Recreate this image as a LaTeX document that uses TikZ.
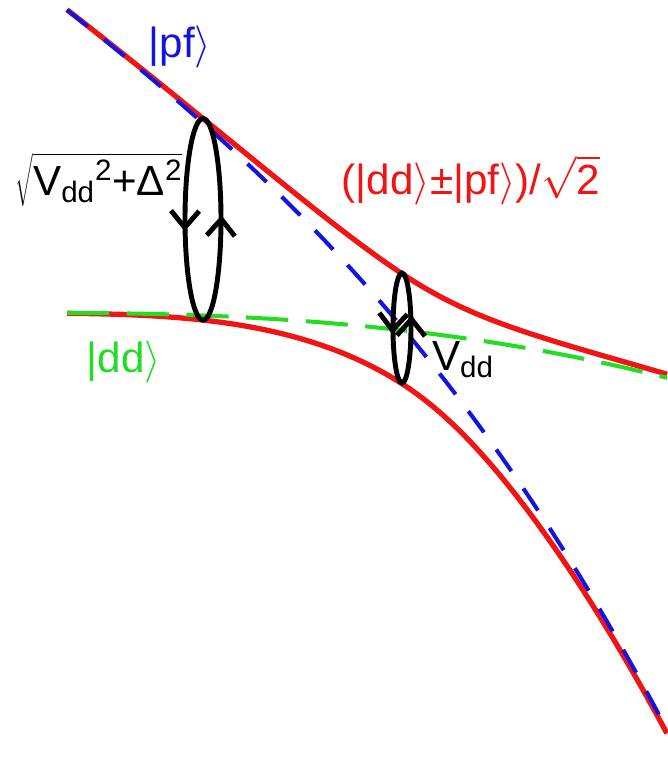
\documentclass[tikz,border=0pt]{standalone}
\usepackage{fix-cm}
\usepackage{fontspec}
\setmainfont{Liberation Sans}
\usetikzlibrary{arrows.meta,decorations.markings}
\definecolor{levred}{HTML}{F01414}
\definecolor{levblue}{HTML}{1414E0}
\definecolor{levgreen}{HTML}{22DD22}

\begin{document}
\begin{tikzpicture}[x=0.02cm,y=-0.02cm,
    font=\fontsize{24}{28}\selectfont,
    >={Straight Barb[length=9.5pt,width=16pt]},
    declare function={pf(\x)=10+79*\x+1.97*\x^2+0.81*\x^3;
      dd(\x)=313+1.2*\x^2+0.1*\x^3;
      gs(\x)=(\x-3.38)/(\x<3.38?2.6:4);
      cpl(\x)=5.5*exp(-gs(\x)*gs(\x));
      hd(\x)=(pf(\x)-dd(\x))/20;
      rt(\x)=10*sqrt(hd(\x)*hd(\x)+cpl(\x)*cpl(\x));
      up(\x)=(pf(\x)+dd(\x))/2-rt(\x);
      lo(\x)=(pf(\x)+dd(\x))/2+rt(\x);},
    adiab/.style={levred,line width=3pt},
    diab/.style={line width=2.3pt},
    loopline/.style 2 args={black,line width=2.8pt,
      postaction={decorate,decoration={markings,
        mark=at position #1 with {\arrow{<}},
        mark=at position #2 with {\arrow{<}}}}}]
  \useasboundingbox[fill=white] (0,0) rectangle (667,758);
  % adiabatic levels
  \draw[adiab] plot[domain=0:6,samples=120,smooth] ({67+100*\x},{up(\x)});
  \draw[adiab] plot[domain=0:6,samples=120,smooth] ({67+100*\x},{lo(\x)});
  % diabatic levels
  \draw[diab,levblue,dash pattern=on 15 off 12] plot[domain=0:6,samples=80,smooth] ({67+100*\x},{pf(\x)});
  \draw[diab,levgreen,dash pattern=on 24 off 10] plot[domain=0:6,samples=80,smooth] ({67+100*\x},{dd(\x)});
  % splittings
  \draw[loopline={0.045}{0.526}] (203,219.3) ellipse [x radius=18,y radius=100.8];
  \draw[loopline={0.045}{0.574}] (402,328) ellipse [x radius=9,y radius=55];
  % labels
  \node[levblue] (pflabel) at (180,47) {|pf$\rangle$};
  \node (gaplabel) at (99,180) {$\sqrt{\mbox{V\textsubscript{dd}\textsuperscript{2}+Δ\textsuperscript{2}}}$};
  \node[levred] (mixlabel) at (471,180) {(|dd$\rangle$±|pf$\rangle$)/$\sqrt{\mbox{2}}$};
  \node[levgreen] (ddlabel) at (124,362) {|dd$\rangle$};
  \node (vlabel) at (463,360) {V\textsubscript{dd}};
\end{tikzpicture}
\end{document}
